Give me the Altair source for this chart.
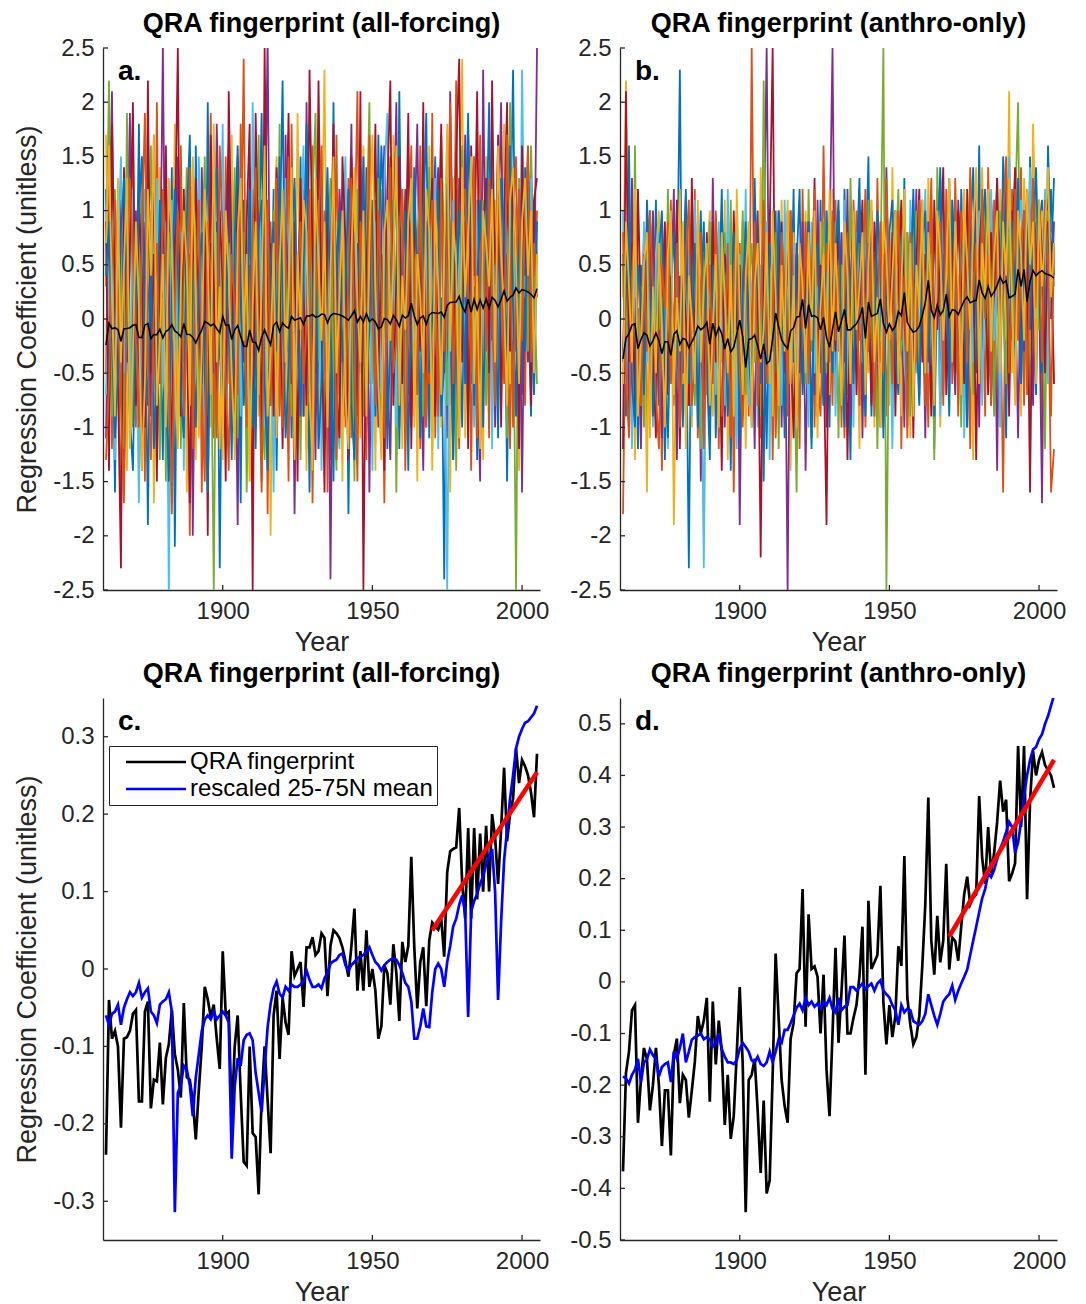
import altair as alt
import pandas as pd

# ---------------------------------------------------------------- data
YEARS = list(range(1861, 2006))

# c. QRA fingerprint (all-forcing) and rescaled 25-75N mean
C_FP = [
    -0.24, -0.04, -0.09, -0.08, -0.10, -0.205, -0.09, -0.088, -0.08, -0.058,
    -0.053, -0.171, -0.171, -0.055, -0.042, -0.18, -0.143, -0.145, -0.095, -0.175,
    -0.115, -0.097, -0.053, -0.11, -0.13, -0.166, -0.044, -0.14, -0.143, -0.17,
    -0.22, -0.157, -0.10, -0.023, -0.039, -0.062, -0.046, -0.09, -0.129, 0.023,
    -0.058, -0.055, -0.19, -0.10, -0.06, -0.16, -0.249, -0.254, -0.10, -0.212,
    -0.217, -0.291, -0.166, -0.10, -0.17, -0.238, -0.06, -0.028, -0.116, -0.037,
    -0.069, -0.085, 0.023, -0.009, 0.0, 0.009, -0.049, 0.028, 0.028, 0.041,
    0.018, 0.023, 0.046, 0.04, -0.035, 0.03, 0.05, 0.046, 0.04, 0.028,
    0.01, -0.01, 0.03, 0.078, -0.028, 0.023, -0.028, 0.05, -0.023, 0.0,
    -0.028, -0.09, -0.074, 0.005, -0.005, -0.046, 0.032, -0.005, -0.067, 0.035,
    0.009, 0.03, 0.145, 0.028, -0.051, 0.009, 0.028, -0.048, 0.037, 0.06,
    0.055, 0.051, 0.065, 0.016, 0.125, 0.152, 0.155, 0.157, 0.208, 0.111,
    0.065, 0.182, 0.065, 0.182, 0.09, 0.175, 0.10, 0.185, 0.10, 0.20,
    0.17, 0.11, 0.18, 0.26, 0.165, 0.20, 0.22, 0.285, 0.24, 0.27,
    0.262, 0.25, 0.228, 0.196, 0.278,
]
C_BLUE = [
    -0.06, -0.072, -0.058, -0.055, -0.046, -0.072, -0.05, -0.039, -0.03, -0.035,
    -0.03, -0.018, -0.037, -0.03, -0.025, -0.055, -0.06, -0.07, -0.046, -0.042,
    -0.039, -0.03, -0.055, -0.314, -0.16, -0.15, -0.125, -0.13, -0.15, -0.19,
    -0.14, -0.11, -0.08, -0.065, -0.06, -0.065, -0.055, -0.065, -0.06, -0.055,
    -0.06, -0.069, -0.245, -0.152, -0.115, -0.125, -0.092, -0.085, -0.083, -0.092,
    -0.134, -0.16, -0.185, -0.129, -0.075, -0.045, -0.025, -0.016, -0.032, -0.037,
    -0.023, -0.028, -0.02, -0.023, -0.023, -0.02, -0.016, -0.002, -0.014, -0.023,
    -0.023, -0.02, -0.025, -0.012, -0.005, 0.007, 0.01, 0.012, 0.018, 0.02,
    0.005, -0.002, 0.005, 0.009, 0.014, 0.016, 0.018, 0.023, 0.028, 0.018,
    0.009, 0.005, -0.002, 0.005, 0.009, 0.012, 0.014, 0.012, 0.005, -0.005,
    -0.018, -0.023, -0.042, -0.09, -0.09, -0.074, -0.051, -0.074, -0.075, -0.03,
    0.0, 0.007, 0.0, -0.023, 0.009, 0.03, 0.055, 0.065, 0.083, 0.095,
    0.074, -0.062, 0.074, 0.088, 0.097, 0.11, 0.12, 0.135, 0.145, 0.155,
    0.10, -0.04, 0.06, 0.14, 0.18, 0.22, 0.25, 0.285, 0.30, 0.31,
    0.318, 0.32, 0.325, 0.33, 0.34,
]

# d. QRA fingerprint (anthro-only) and rescaled 25-75N mean
D_FP = [
    -0.367, -0.176, -0.135, -0.055, -0.045, -0.273, -0.19, -0.128, -0.15, -0.249,
    -0.20, -0.128, -0.2, -0.318, -0.21, -0.21, -0.336, -0.14, -0.11, -0.235,
    -0.18, -0.19, -0.263, -0.21, -0.155, -0.066, -0.10, -0.075, -0.031, -0.232,
    -0.038, -0.16, -0.075, -0.135, -0.277, -0.18, -0.304, -0.26, -0.14, -0.01,
    -0.16, -0.446, -0.19, -0.18, -0.149, -0.25, -0.37, -0.23, -0.41, -0.385,
    -0.18, 0.055, -0.07, -0.19, -0.24, -0.273, -0.11, -0.08, 0.017, 0.025,
    0.18, -0.087, 0.131, 0.025, 0.03, 0.01, -0.10, 0.014, -0.17, -0.26,
    -0.10, 0.066, -0.118, -0.02, 0.09, -0.10, -0.10, -0.07, -0.045, 0.01,
    0.107, -0.18, 0.157, 0.025, 0.038, 0.052, 0.186, -0.04, -0.121, -0.045,
    -0.107, -0.066, 0.069, 0.031, 0.244, -0.031, -0.083, -0.121, -0.107, -0.066,
    0.031, 0.15, 0.357, 0.08, 0.014, 0.128, 0.038, 0.08, 0.229, 0.024,
    0.086, 0.079, 0.041, 0.107, 0.17, 0.204, 0.15, 0.163, 0.17, 0.36,
    0.24, 0.19, 0.30, 0.21, 0.25, 0.31, 0.39, 0.33, 0.353, 0.195,
    0.21, 0.23, 0.457, 0.30, 0.457, 0.16, 0.35, 0.447, 0.40, 0.43,
    0.445, 0.42, 0.41, 0.40, 0.376,
]
D_BLUE = [
    -0.183, -0.187, -0.197, -0.18, -0.17, -0.149, -0.194, -0.156, -0.15, -0.131,
    -0.142, -0.149, -0.183, -0.165, -0.159, -0.156, -0.194, -0.135, -0.149, -0.128,
    -0.10, -0.156, -0.135, -0.112, -0.107, -0.104, -0.10, -0.111, -0.107, -0.111,
    -0.125, -0.118, -0.10, -0.13, -0.145, -0.156, -0.156, -0.159, -0.152, -0.13,
    -0.118, -0.126, -0.135, -0.152, -0.156, -0.145, -0.159, -0.163, -0.156, -0.135,
    -0.155, -0.135, -0.111, -0.118, -0.093, -0.093, -0.08, -0.065, -0.05, -0.042,
    -0.055, -0.031, -0.045, -0.038, -0.048, -0.042, -0.052, -0.038, -0.045, -0.031,
    -0.052, -0.059, -0.031, -0.055, -0.048, -0.045, -0.01, -0.01, -0.017, -0.01,
    -0.003, -0.014, -0.008, -0.003, -0.017, -0.003, 0.003, -0.017, -0.024, -0.03,
    -0.045, -0.055, -0.083, -0.045, -0.059, -0.052, -0.055, -0.076, -0.08, -0.083,
    -0.076, -0.062, -0.024, -0.045, -0.066, -0.083, -0.062, -0.038, -0.03, -0.024,
    -0.007, -0.035, -0.017, -0.003, 0.01, 0.024, 0.052, 0.08, 0.107, 0.135,
    0.162, 0.18, 0.21, 0.203, 0.217, 0.238, 0.258, 0.272, 0.29, 0.31,
    0.30, 0.25, 0.27, 0.31, 0.36, 0.40, 0.43, 0.45, 0.455, 0.47,
    0.48, 0.50, 0.515, 0.535, 0.555,
]

# red linear trends (1970 onwards)
TREND_YEARS = [1970, 2005]
C_TREND = [0.05, 0.254]
D_TREND = [0.088, 0.43]

# a. individual members (all-forcing)
A_MEMBERS = [
    [1.2, -0.8, 0.3, -1.6, 0.9, 0.2, -0.4, 1.5, -1.1, 0.6, -0.3, 1.8, -0.9, 0.4, -1.9, 0.7, 1.1, -0.5, 0.2, -1.3,
     0.8, -0.2, 1.4, -2.1, 0.5, -0.7, 1.0, -0.1, 0.6, -1.5, 1.6, -0.4, 0.1, -1.0, 2.0, -0.6, 0.3, 0.9, -2.3, 0.4,
     -0.9, 1.3, 0.0, -0.5, 0.8, -1.7, 1.1, 0.2, -0.3, 0.7, -1.2, 0.5, 1.9, -0.8, 0.1, -0.4, 1.2, -1.4, 0.6, 2.2,
     -0.7, 0.3, -1.1, 0.9, -0.2, 1.5, -0.9, 0.4, -1.6, 0.8, 0.1, -0.6, 1.3, -0.2, 0.7, -1.3, 2.0, -0.4, 0.5, -0.9,
     1.0, -1.8, 0.6, 0.2, -0.5, 1.4, -0.1, -1.0, 0.9, 0.3, -0.8, 1.7, -0.3, 0.6, -1.2, 0.4, 1.1, -0.6, 2.1, -0.2,
     0.5, -1.4, 0.8, 0.1, -0.7, 1.3, -0.3, 0.9, -1.1, 0.6, 1.5, -0.5, 0.2, -2.4, 0.9, 0.4, -0.8, 1.2, 0.0, -1.0,
     0.7, 1.9, -0.6, 0.3, -1.3, 1.0, 0.5, -0.2, 1.6, -0.9, 0.4, -0.4, 1.2, 0.8, -1.5, 0.6, 2.3, -0.3, 0.9, -0.7,
     1.4, 0.2, -0.9, 1.1, 0.5],
    [-0.5, 1.4, -1.2, 0.8, 0.1, -1.9, 1.0, -0.3, 0.6, 1.7, -1.0, 0.2, 0.9, -1.5, 1.3, -0.2, -0.8, 2.0, -0.6, 0.4,
     1.1, -1.3, 0.5, 0.0, -0.9, 1.6, -0.4, 0.7, -2.0, 0.9, -0.1, 1.2, -1.6, 0.6, -0.3, 1.9, -1.1, 0.2, 0.8, -0.7,
     1.5, -0.2, -1.0, 1.1, -0.6, 0.3, 2.4, -0.9, 0.5, -1.4, 0.7, -0.5, 0.1, 1.3, -1.8, 0.9, -0.2, 0.6, -0.9, 1.0,
     0.3, -1.5, 1.8, -0.4, 0.5, -0.8, 1.2, -1.2, 0.2, 1.6, -0.9, 0.4, -0.1, 1.0, -1.6, 0.8, -0.3, 1.7, -0.7, 0.5,
     0.0, 1.3, -1.1, 0.6, 2.1, -0.5, 0.2, -1.3, 0.8, -0.2, 1.1, -0.7, 0.4, -1.7, 0.9, 1.5, -0.4, 0.3, -1.0, 1.2,
     -0.3, 0.7, 1.6, -0.9, 0.2, -1.2, 1.0, 0.4, -0.6, 1.9, -1.1, 0.5, 0.9, -0.4, 1.4, -0.8, 0.1, 2.2, -0.5, 0.6,
     -0.2, 1.0, -1.4, 0.8, 0.3, 1.7, -0.6, 0.5, -1.1, 1.3, 0.2, 1.6, -0.5, 1.1, 0.4, -1.2, 0.9, 1.5, -0.3, 0.7,
     -0.8, 1.2, 0.6, -0.2, 1.0],
    [1.7, -0.2, 0.6, -1.0, 1.3, -0.7, 0.4, -1.4, 0.9, 0.0, 0.5, -1.2, 1.5, 0.3, -0.6, 1.0, -1.7, 0.8, 1.4, -0.4,
     -0.8, 0.6, -0.2, 1.8, -1.1, 0.3, 0.9, -1.6, 0.4, 1.2, -1.3, 0.7, 1.0, -0.5, 0.2, -1.0, 1.6, -0.2, -1.2, 0.9,
     0.4, -0.6, 1.7, -1.3, 0.6, 0.1, -0.8, 1.1, -1.5, 0.5, 1.3, -0.9, 0.4, -0.3, 1.0, -2.0, 0.7, 1.5, -0.4, 0.2,
     -1.0, 1.1, 0.3, -0.6, 1.9, -0.2, 0.5, -1.4, 1.0, -0.5, 0.8, -1.2, 0.5, 2.3, -0.7, 0.2, -1.0, 0.9, 0.4, -1.5,
     1.2, 0.3, -0.8, 1.0, -0.3, -1.1, 1.6, 0.4, -0.6, 0.8, -1.4, 0.6, 1.2, -0.1, 0.3, -0.9, 1.7, -0.5, 0.8, -1.2,
     1.0, 0.2, -0.6, 1.4, -1.5, 0.7, 0.3, -0.8, 1.6, 0.1, -0.4, 1.1, -1.0, 0.6, 0.2, -1.6, 1.3, -0.2, 0.9, 2.4,
     -1.1, 0.4, 1.2, -0.5, 0.9, 0.0, -1.3, 1.5, 0.6, -0.4, 1.1, -0.9, 0.5, 1.8, 0.3, -0.6, 1.0, 0.4, -1.4, 1.2,
     0.6, 1.5, -0.5, 0.8, 0.3],
    [-1.1, 0.7, 2.1, -0.6, -0.2, 1.1, -1.5, 0.5, 1.9, -0.8, 1.0, -0.4, -1.4, 0.9, 0.3, -0.9, 1.7, -1.2, 0.1, 2.5,
     -0.6, 1.2, -1.7, 0.4, 1.5, -0.3, -1.0, 0.8, 1.3, -2.0, 0.6, -0.8, 1.4, 0.0, -1.4, 0.7, -0.5, 1.8, 0.3, -1.1,
     0.9, 1.6, -0.7, 0.2, -1.9, 1.0, -0.2, -0.6, 1.4, -0.3, -0.4, 1.1, -1.5, 0.5, 2.6, -0.8, 0.2, -1.1, 1.3, -0.6,
     1.7, -0.3, 0.6, -1.8, 0.4, 1.0, -0.9, 2.0, -0.4, 0.1, -1.3, 1.5, -0.6, 0.3, 1.1, -2.4, 0.7, -0.1, 1.2, 0.6,
     -0.9, 0.4, 1.8, -1.2, 0.2, 0.9, -0.7, 1.4, -1.6, 0.5, 0.3, -1.0, 0.8, 1.6, -0.5, -1.3, 0.6, 2.0, -0.8, 0.2,
     1.2, -0.5, -1.0, 0.7, 1.8, -0.2, -1.4, 0.9, 0.3, -0.7, 0.8, 1.4, -0.6, 0.1, -1.1, 2.1, 0.4, -0.9, 1.3, -0.3,
     1.7, -0.8, 0.2, 1.1, -0.4, -1.5, 2.3, 0.0, 0.7, 1.2, -1.0, 0.6, 2.0, -0.3, 0.9, 1.4, -0.7, 0.3, 1.1, -1.6,
     0.8, -0.4, 1.3, 0.1, 2.5],
    [0.3, 2.2, -0.9, 1.2, -0.3, 0.6, -1.2, 1.9, -0.2, -1.0, 0.8, -0.1, 1.1, -0.8, 0.5, 1.6, -0.6, 0.0, -1.3, 0.9,
     -1.5, 0.8, 0.2, -0.4, 1.0, -1.2, 0.5, 1.4, -0.7, 0.1, 1.1, -1.0, 0.4, 1.5, -0.9, 0.2, -2.5, 0.8, 0.6, -0.3,
     -0.5, 0.7, 0.2, 1.4, -1.1, 0.5, 0.8, -1.6, 0.0, 1.2, 0.2, 1.7, -0.7, -1.3, 0.6, 0.3, 1.0, -0.5, 1.8, -0.9,
     0.6, -0.2, -0.9, 1.2, 0.1, -1.3, 0.7, 0.3, -0.8, 1.1, 1.9, -0.4, 0.8, -1.1, 0.5, 1.3, -0.5, -1.4, 0.6, 1.0,
     -0.3, 0.9, 0.2, -1.5, 1.2, 0.4, -0.9, 0.7, 2.0, -0.6, 0.5, 1.3, -1.1, 0.2, 0.7, -0.4, 1.1, -1.6, 0.4, 0.9,
     -0.7, 1.5, 0.3, -0.5, 0.8, 1.1, -0.9, 0.1, 1.4, -1.2, 0.4, -0.3, 1.7, 0.7, -0.8, 0.3, 1.0, -1.4, 0.6, 1.6,
     0.0, -0.9, 0.8, 1.5, -0.2, 0.6, 1.1, -0.8, 0.3, 1.7, -0.5, 1.2, 0.1, 0.7, -1.1, 2.0, 0.4, -2.5, 1.3, 0.2,
     1.0, -0.3, 1.6, 0.4, -0.6],
    [-0.7, 0.4, 1.0, -1.3, 0.6, 1.5, -0.5, 0.2, -0.9, 1.2, 0.1, -1.7, 0.6, 1.2, -0.3, 0.5, -1.0, 1.3, 0.3, -0.6,
     0.9, -2.6, 1.1, -0.5, 0.3, 0.8, -1.4, 0.6, 1.0, -0.2, -0.6, 1.5, 0.3, -1.2, 0.9, -0.4, 1.2, -1.0, 0.5, 1.8,
     -1.2, 0.2, 0.9, -0.4, 1.3, -0.9, 0.6, 0.0, -1.1, 2.0, 0.5, -0.4, 1.2, -1.0, 0.8, 0.3, -1.6, 0.9, 0.1, -0.6,
     1.3, 0.7, -0.5, 0.2, -1.2, 0.8, 1.6, -0.6, 0.4, -1.0, 0.6, 1.1, -1.4, 0.4, -0.2, 0.9, 1.4, -0.8, -1.2, 0.7,
     1.5, -0.6, 0.3, 0.8, -1.0, 0.1, 1.2, -0.4, 0.6, -1.4, 0.9, 0.2, -0.7, 1.3, 1.9, -0.3, 0.5, -1.0, 1.1, 0.4,
     -1.1, 0.3, 1.2, -0.2, 0.6, -0.8, 1.6, 0.5, -0.4, 0.9, 1.3, -1.2, 0.7, 0.3, -2.5, 0.8, 1.1, -0.1, 0.5, 1.0,
     -0.6, 1.4, 0.3, -1.0, 1.1, 0.4, -0.3, 0.9, 1.6, -1.2, 0.8, 0.3, -0.8, 1.3, 0.6, 1.0, -0.2, 0.7, -0.9, 2.3,
     0.2, 0.9, 1.3, -0.7, 0.6],
    [0.9, -1.4, 1.8, 0.2, -0.6, -2.3, 1.4, -0.4, 0.7, 2.0, -0.8, 1.1, 0.4, -1.0, 2.2, -0.5, 0.6, -1.5, 0.9, 0.2,
     1.6, -0.3, -1.2, 0.7, 2.5, -0.9, 1.2, -0.1, -1.7, 0.5, 1.3, 0.1, -0.6, 0.9, -2.0, 1.7, 0.4, -0.8, 1.0, 0.3,
     -1.5, 2.1, 0.5, -1.0, 1.5, 0.2, -0.4, 0.9, 1.8, -2.5, 1.9, 0.3, -1.1, 2.5, -0.2, 0.7, -0.9, 1.4, 0.4, -1.2,
     0.5, 1.9, -0.6, 0.9, -1.5, 1.3, 0.2, -0.8, 2.3, 0.6, -0.5, 2.2, 0.1, -1.6, 1.0, 0.4, 1.8, -0.6, -1.1, 1.5,
     0.7, -1.3, 1.5, 0.3, -0.9, 2.1, -2.5, 0.5, 1.2, 0.0, 1.8, -0.5, 0.6, -1.4, 1.2, 2.2, -0.8, 0.4, 1.5, -0.6,
     0.3, 1.9, -1.2, 1.0, 0.5, -0.3, 2.0, -1.0, 0.7, 1.3, -0.9, 0.6, 1.8, -0.5, 1.0, 0.2, -1.3, 1.5, 2.4, -0.4,
     0.9, -1.2, 1.6, 0.4, 2.1, -0.6, 0.8, 1.3, -0.5, 2.2, 0.1, 1.7, -1.0, 0.9, 2.0, -0.3, 1.4, 0.5, -1.2, 1.6,
     0.4, 1.5, -0.8, 1.1, 1.3],
    [0.4, 0.9, -0.2, -1.1, -0.5, 0.8, 1.3, 0.1, -0.9, -1.4, 0.2, 1.0, 1.5, -0.3, -0.8, 0.6, -1.2, -0.4, 1.1, 0.7,
     -0.6, -1.5, 0.3, 1.2, 0.5, -0.7, -1.1, 0.9, 1.7, -0.2, -1.0, 0.4, 0.8, -0.5, -1.6, 0.2, 1.0, 1.4, -0.3, -0.9,
     0.6, -0.1, -1.3, 0.7, 1.6, 0.3, -0.8, -0.2, 1.2, -1.0, -0.4, 0.8, 1.1, -0.6, -1.4, 0.5, 0.9, -0.3, 1.5, 0.2,
     -1.1, -0.5, 0.7, 1.3, -0.2, -0.9, 0.4, 1.8, -0.7, 0.1, 0.9, -1.2, -0.6, 0.5, 1.4, 0.0, -1.5, 0.6, 1.0, -0.4,
     0.3, 1.2, -0.8, -1.3, 0.7, 0.2, 1.5, -0.6, -0.1, 1.1, -0.9, 0.4, 1.6, 0.8, -1.0, -0.3, 0.6, 1.3, -1.2, 0.5,
     1.0, -0.7, -0.2, 1.4, 0.3, -1.1, 0.8, 1.9, -0.5, 0.0, 0.6, 1.2, -0.9, -0.4, 1.5, 0.7, -1.3, 0.2, 1.0, 0.4,
     -0.6, 1.7, 0.9, -0.8, 0.3, 1.1, -1.0, 0.6, 2.0, -0.2, 0.5, -1.1, 1.3, 0.8, -0.5, 1.6, 0.1, -0.9, 1.2, 0.7,
     -0.3, 1.4, 0.4, -0.7, 0.9],
    [-1.3, -0.6, 0.5, 1.1, 0.2, -0.8, -1.7, 0.4, 1.3, 0.6, -0.2, -1.0, 0.8, 1.9, -0.4, -1.3, 0.1, 0.7, -0.6, 1.2,
     0.5, -0.3, -1.8, 0.2, 1.0, 0.6, -0.9, -0.1, 1.4, -1.2, 0.3, 1.1, -0.7, -1.5, 0.9, 0.4, -0.2, -1.1, 1.6, 0.8,
     -0.5, -1.4, 0.6, 0.1, -0.7, 1.8, 0.3, -1.0, -0.4, 0.9, 1.4, -0.2, -1.6, 0.5, 1.1, -0.8, 0.2, 1.3, -0.5, -1.0,
     0.7, 1.5, -0.3, -1.2, 0.4, 0.9, -0.6, 0.0, 1.2, -1.7, 0.2, 0.8, 1.6, -0.4, -0.9, 0.5, 1.0, -1.3, 0.3, 0.7,
     -1.0, 0.6, 1.3, -0.2, -1.5, 0.9, 0.4, -0.6, 1.7, 0.1, -0.8, 1.0, 0.3, -1.1, 0.6, 1.4, -0.5, -0.2, 0.8, 1.2,
     -1.4, 0.2, 0.9, 0.5, -0.7, 1.6, -0.1, -1.0, 0.7, 1.1, 0.4, -0.9, 1.3, -0.3, 0.8, 2.0, -0.6, 0.2, -1.2, 0.9,
     1.2, 0.3, -0.5, 1.5, -1.1, 0.6, 0.9, -0.3, 1.3, 0.0, -0.8, 1.1, 0.5, -0.6, 1.7, 0.8, -1.0, 0.4, 1.2, -0.2,
     0.9, 1.6, -0.4, 0.7, 0.2],
    [0.7, 1.6, 0.2, -0.9, 1.1, -0.4, 0.5, 1.3, -1.2, -0.3, 0.9, 0.1, -1.4, -0.6, 1.2, 0.4, 1.7, -0.8, -0.2, 0.6,
     -1.0, 1.3, 0.7, -0.5, -1.2, 0.3, 1.0, 0.5, -0.8, 1.5, 0.2, -1.1, -0.3, 1.2, 0.6, -0.7, 1.8, -0.4, 0.3, -1.3,
     1.0, 0.4, -0.5, -1.2, 0.8, 1.3, -0.2, 0.6, -1.5, 0.1, 0.9, -0.7, 0.3, 1.6, -0.9, -0.3, 0.7, -1.1, 0.5, 1.2,
     -0.4, 0.2, 1.4, -1.3, 0.6, -0.1, 1.1, 0.8, -0.6, -1.4, 1.3, 0.5, -0.2, 0.9, -1.0, 0.4, 1.5, -0.5, 0.2, 1.0,
     -0.7, -1.2, 0.6, 1.4, 0.1, -0.4, 1.0, -0.9, 0.7, 1.7, 0.3, -0.6, -1.3, 0.8, 1.1, -0.2, 0.5, 1.6, -0.8, 0.4,
     -0.1, 0.9, 1.3, -1.0, 0.6, 0.2, -0.5, 1.2, 0.8, -1.4, 1.1, 0.3, -0.7, 0.6, 1.8, -0.3, 0.9, 0.5, -1.1, 1.4,
     0.2, 0.8, 1.5, -0.6, 0.4, -1.2, 1.0, 0.7, 0.3, 1.2, -0.4, 1.6, 0.6, 0.1, -0.8, 1.1, 1.4, 0.5, -0.6, 0.9,
     1.3, 0.4, 1.0, -0.5, 0.6],
]

# b. individual members (anthro-only)
B_MEMBERS = [
    [0.6, -0.9, 1.6, -0.4, 0.2, -1.2, 0.5, -0.3, 0.9, -0.7, -0.2, 1.1, -0.8, 0.3, -1.3, 0.4, 0.7, -0.6, 0.1, 2.3,
     -1.0, 0.3, -2.3, 0.8, -0.5, 0.2, 1.0, -0.9, 0.4, -0.2, 0.7, -1.1, 0.1, 1.2, -0.6, 0.4, -1.4, 0.6, 0.0, -0.8,
     0.9, -0.5, 0.3, -1.0, 1.3, -0.2, 0.5, -1.5, 0.8, -0.4, 0.2, 1.0, -0.7, 0.4, -1.1, 0.6, -0.1, 1.2, -0.9, 0.3,
     -0.5, 0.8, 0.1, -1.2, 0.7, -0.3, 1.1, -0.6, 0.4, -1.0, 0.9, -0.2, 0.5, -0.8, 1.2, 0.0, -1.3, 0.6, -0.4, 1.0,
     -0.6, 0.3, 1.5, -0.9, 0.2, -0.4, 0.8, -1.1, 0.6, 0.1, -0.7, 1.0, 0.3, -0.5, 1.3, -1.0, 0.4, 0.9, -0.3, 0.6,
     1.1, -0.8, 0.2, 0.7, -1.2, 0.5, 1.4, -0.4, 0.3, -0.9, 0.8, 0.1, -0.6, 1.2, 0.4, -1.0, 0.9, 0.2, -0.5, 1.6,
     -0.3, 0.7, 1.0, -0.8, 0.5, 1.3, -0.2, 0.6, -1.1, 1.0, 0.4, -0.6, 1.2, 0.3, 0.9, -0.4, 1.5, 0.1, -0.7, 0.8,
     1.1, -0.3, 1.6, 0.5, 1.3],
    [-1.8, 0.3, -0.5, 1.0, -0.9, 0.6, -0.2, 0.8, -1.1, 0.1, 0.9, -0.6, 0.2, -1.4, 0.5, -0.3, 1.1, -0.8, 0.4, -0.5,
     0.3, -0.9, 0.8, -0.2, 1.2, -1.1, 0.0, 0.6, -0.7, 0.4, -0.4, 0.8, -1.2, 0.5, 0.1, -0.6, 0.9, -1.6, 0.3, 0.7,
     -0.2, 0.5, -0.9, 2.5, -0.4, 0.3, -1.1, 0.6, -0.3, 1.0, -1.3, 0.4, 0.8, -0.5, 0.2, -0.9, 1.0, -0.2, 0.5, -1.2,
     1.2, -0.4, 0.3, 0.7, -1.0, 0.6, -0.5, 1.6, -0.2, 0.4, -0.8, 1.1, -0.3, 0.2, -1.1, 0.8, 0.4, -0.6, 1.0, -0.2,
     0.5, -1.0, 0.7, 0.1, -0.6, 1.3, -0.4, 0.3, -0.9, 0.8, 0.2, -0.5, 1.0, -1.2, 0.6, 0.3, -0.7, 1.1, 0.0, -0.4,
     0.7, 0.2, -1.0, 0.9, -0.3, 1.2, 0.4, -0.8, 0.6, 1.0, -0.6, 1.3, 0.1, -0.4, 0.9, 0.5, -1.2, 0.7, 1.1, -0.1,
     0.6, -0.9, 1.4, 0.2, -0.5, 1.0, 0.3, -1.6, 0.8, 0.5, 1.2, -0.2, 0.6, 1.4, -0.8, 0.9, 0.2, 1.1, -0.4, 0.7,
     -1.0, 0.9, 0.4, -1.6, -1.2],
    [0.2, 2.2, -0.7, 0.5, -1.3, 0.9, -0.1, 0.4, -1.6, 0.7, -0.4, 0.6, 1.0, -0.9, 0.1, -0.5, 0.8, -1.9, 0.3, 1.2,
     -0.6, 0.4, 0.9, -1.0, 0.2, 0.7, -0.3, -2.0, 0.5, 1.0, -0.9, 0.2, 0.6, -0.4, 1.1, -1.3, 0.3, 0.8, -0.7, 0.0,
     0.6, -1.2, 0.9, -0.1, 0.4, -0.8, 1.4, 0.2, -0.6, 0.7, -0.9, 0.5, -0.2, 1.1, -0.6, 0.3, -1.4, 0.8, 0.0, 0.5,
     -0.3, 1.0, -0.8, 0.4, 0.2, -1.1, 0.9, -0.4, 0.6, -0.7, 1.2, -0.5, 0.3, 0.8, -0.9, 0.1, 1.0, -0.6, 0.4, -1.2,
     0.9, 0.2, -0.5, 1.1, -1.0, 0.6, -0.2, 0.8, 0.3, -0.8, 1.4, -0.3, 0.5, -0.9, 0.7, 0.1, -1.1, 0.9, 0.4, -0.2,
     0.6, -0.7, 1.3, 0.0, -0.5, 0.8, -1.0, 0.5, 1.1, -0.3, 0.2, 0.9, -0.8, 0.6, 1.2, -0.4, 0.3, -1.3, 1.0, 0.5,
     1.4, 0.1, -0.6, 0.9, 0.4, -0.9, 1.2, 0.6, -0.2, 2.1, -0.5, 0.8, 0.3, -0.9, 1.3, 0.5, -0.3, 1.8, 0.6, 0.2,
     1.0, -0.4, 0.7, 0.3, -0.6],
    [-0.3, 0.8, -1.0, 1.3, -0.5, 0.1, -1.2, 0.6, 0.3, -0.8, 1.0, -0.2, 0.5, -1.1, 0.7, -0.6, 0.2, 1.2, -1.3, 0.4,
     -0.5, 1.1, -0.8, 0.3, -0.1, 0.9, -1.5, 0.2, 0.6, -0.9, 1.3, -0.3, -0.8, 0.7, -1.0, 0.5, 0.1, -0.6, 1.0, -1.9,
     0.4, 0.8, -0.6, 0.2, -1.2, 1.0, -0.3, 0.6, 2.5, -0.7, 0.1, -0.4, 1.0, -1.0, 0.5, -2.5, 0.8, -0.3, 0.6, -0.5,
     0.9, -1.4, 0.2, 0.6, -0.7, 1.1, -0.2, 0.4, -1.0, 0.7, 2.5, -0.6, 0.0, 0.8, -0.4, 1.2, -0.9, 0.5, -0.2, 0.9,
     -1.1, 0.6, -0.3, 1.0, 0.2, -0.8, 0.7, -0.5, 1.4, -0.1, 0.4, 1.0, -0.6, 0.3, -1.0, 0.8, 0.2, -0.4, 1.2, -0.7,
     0.5, -1.1, 0.9, 0.3, -0.2, 1.0, -0.8, 0.6, -0.4, 1.3, 0.0, -0.7, 1.1, 0.4, -0.9, 0.8, 0.3, -0.2, 1.2, -1.0,
     0.7, 0.3, -0.5, 1.1, 0.6, -1.4, 0.9, 0.2, 1.3, -0.6, 1.0, 0.4, -1.1, 0.7, -0.3, 1.2, 0.5, -0.8, 0.9, 0.3,
     -1.7, 1.1, 0.6, 0.0, 0.9],
    [0.5, -0.4, 0.9, -0.8, 1.6, -0.6, 0.3, -1.0, 0.7, -0.2, -0.7, 0.4, -0.1, 0.9, -0.9, 1.2, 0.0, -0.6, 0.5, -1.1,
     0.7, -0.3, 0.2, 1.0, -0.8, 0.4, -1.2, 0.6, -0.4, 0.9, -0.2, 0.5, -1.0, 0.3, 0.8, -0.5, 1.1, -0.9, 0.2, -0.4,
     1.0, -0.7, 0.3, 0.7, -0.4, 0.0, -0.9, 2.2, -0.5, 0.4, -0.3, 0.8, -1.2, 0.2, 0.7, -0.6, 1.0, -0.1, -1.6, 0.6,
     0.3, -0.6, 1.2, -0.3, 0.5, -0.9, 0.4, 0.9, -0.5, 0.1, -0.4, 0.9, -1.1, 0.5, 0.2, -0.7, 1.3, 0.0, -0.5, 0.7,
     0.2, -0.6, 1.1, -0.2, 0.6, -1.2, 0.4, 2.5, -2.5, 0.3, -0.6, 0.5, 1.2, -0.3, 0.1, 0.8, -0.9, 0.4, 1.0, -0.5,
     0.3, 0.9, -0.4, 0.6, -1.3, 1.4, 0.2, -0.6, 0.7, 0.1, 1.0, -0.5, 0.4, -1.0, 0.8, 0.2, 1.3, -0.7, 0.5, -0.3,
     0.2, 1.1, -0.4, 0.5, -0.9, 0.7, 1.0, 0.1, -0.6, 0.8, -0.2, 1.0, 2.0, -0.6, 0.4, 0.9, -0.9, 0.6, 1.2, -0.1,
     0.5, -1.2, 1.0, 0.2, 0.7],
    [1.0, -0.6, 0.2, -1.2, 0.6, 0.0, -0.8, 0.9, -0.4, 0.3, -1.0, 0.5, 0.8, -0.3, 0.2, -1.2, 0.6, -0.5, 1.0, -0.8,
     0.4, -0.1, 0.6, -0.9, 1.1, -0.4, 0.3, -2.3, 0.7, 0.1, 0.2, -0.7, 0.9, -0.1, -0.8, 1.2, -0.3, 0.4, -1.2, 0.6,
     -0.4, 1.2, -0.8, 0.3, 0.6, -1.0, 0.5, -0.2, 0.9, -1.3, 0.8, -0.1, 0.4, -0.8, 1.1, 0.0, -0.6, 0.7, -1.0, 0.4,
     -0.2, 0.6, -1.0, 0.9, -0.5, 0.3, 0.0, -0.8, 1.0, 0.2, 0.7, -0.9, 0.2, -0.3, 1.1, -0.6, 0.5, -1.0, 0.8, 0.1,
     -0.4, 1.0, -0.1, 0.5, -0.9, 0.7, 0.0, -0.6, 1.1, 0.4, -1.2, 0.6, 0.2, 0.9, -0.4, -0.8, 1.1, 0.3, -0.5, 0.7,
     0.1, 1.2, -0.5, -0.2, 0.8, 0.4, -0.9, 1.0, 0.3, -0.6, 1.1, 0.4, -0.3, 0.8, -1.1, 0.5, 0.9, -0.4, 0.2, 1.0,
     -0.8, 0.6, 0.3, 1.2, -0.2, 0.5, -1.0, 0.9, 0.4, 1.5, 0.1, -0.7, 0.8, 1.1, 0.3, -0.5, 1.4, 0.6, 0.0, 1.0,
     0.4, 1.2, -0.6, 0.8, 0.3],
    [-1.2, 2.1, -0.4, 0.7, -0.9, 1.2, 0.0, -0.6, 0.5, 1.0, -0.3, -1.1, 0.7, 0.2, 0.9, -0.7, 0.4, -0.2, 1.1, -1.2,
     0.5, 0.0, -0.8, 1.3, -0.4, 0.6, 0.2, -1.1, 0.8, -0.5, 0.9, -0.4, 0.2, -1.4, 0.6, 0.3, -0.8, 1.0, -0.1, 0.5,
     -0.9, 0.7, 0.0, -0.6, 1.1, 0.3, -2.2, 0.5, -0.4, 0.8, 2.5, -0.8, 0.3, 0.9, -0.5, 1.0, -0.2, -1.1, 0.7, 0.1,
     -0.6, 0.4, 0.9, -0.2, 1.3, -0.7, 0.5, -0.3, -1.9, 0.8, 0.2, -0.3, 1.0, -0.5, 0.6, -1.3, 0.3, 0.9, -0.7, 0.4,
     1.1, -0.5, 0.2, -0.8, 0.9, 0.3, -1.0, 0.6, 0.1, -0.2, 0.8, -0.9, 0.4, 1.1, 0.0, -0.6, 0.7, -1.1, 0.5, 1.2,
     -0.4, 0.6, 0.3, -0.9, 1.1, -0.1, 0.5, 1.4, -0.7, 0.2, 0.9, -0.5, 1.0, 0.3, -0.6, 1.2, 0.0, 0.7, -1.3, 0.6,
     1.1, 0.4, -0.7, 0.8, 0.2, 1.3, -0.3, 0.6, 1.0, -0.9, 0.7, 1.4, 0.2, -0.4, 1.0, 0.6, -1.6, 0.9, 0.3, 1.1,
     0.6, -0.5, 0.9, 0.7, -0.6],
    [-0.4, 0.3, 0.9, -0.6, -1.0, 0.5, 0.2, -0.7, 1.1, 0.4, -0.9, -0.3, 0.6, 1.0, -0.5, -1.1, 0.3, 0.8, -0.2, -0.8,
     0.4, 1.2, -0.6, -0.1, 0.7, -1.0, 0.2, 0.9, -0.4, -1.3, 0.5, 0.1, -0.7, 1.0, 0.3, -0.9, -0.2, 0.8, 0.5, -1.1,
     0.2, 0.9, -0.3, -0.8, 1.1, 0.4, -0.6, 0.1, -1.2, 0.7, 0.3, -0.5, 1.0, 0.6, -0.9, -0.2, 0.8, -0.4, 0.5, 1.2,
     -0.7, 0.0, 0.9, -1.1, 0.4, 0.7, -0.3, -0.8, 1.0, 0.2, -0.5, 0.6, 1.1, -0.4, -1.0, 0.8, 0.3, -0.6, 0.5, 1.3,
     -0.2, -0.9, 0.7, 0.2, -0.4, 1.0, 0.5, -1.0, 0.3, 0.8, 1.1, -0.3, -0.7, 0.6, 0.9, -0.5, 0.2, 1.2, -0.1, -0.8,
     0.7, 1.0, -0.4, 0.3, -0.9, 0.8, 1.3, -0.2, 0.4, -0.6, 1.1, 0.5, -0.3, 0.9, 0.2, -1.0, 0.7, 1.4, 0.0, -0.5,
     0.8, 1.2, 0.3, -0.7, 1.0, 0.4, -0.2, 1.5, 0.6, -0.4, 0.9, 0.2, 1.3, -0.6, 0.5, 1.1, -0.1, 0.8, 1.4, 0.3,
     -0.5, 1.0, 0.6, 1.2, 0.4],
    [0.8, -0.5, -1.1, 0.4, 0.9, -0.2, -0.8, 0.6, -0.3, 1.0, 0.2, -0.7, -1.2, 0.5, 0.1, 0.9, -0.6, -0.1, 0.7, -1.0,
     -0.2, 0.6, 1.1, -0.8, -0.4, 0.3, 0.8, -1.2, 0.0, 0.5, -0.6, 1.0, 0.2, -0.9, -0.3, 0.7, -1.1, 0.4, 0.9, -0.5,
     -1.0, 0.3, 0.6, -0.2, 0.9, -0.8, 0.1, 1.1, -0.6, -0.3, 0.5, -1.1, -0.2, 0.8, 0.3, -0.7, 1.0, 0.2, -0.9, 0.6,
     -0.1, 0.9, -0.6, 0.4, 1.2, -0.5, -0.9, 0.3, 0.7, -0.4, 1.0, -0.2, 0.5, -1.0, 0.2, 0.8, -0.6, 1.1, 0.3, -0.8,
     0.4, 1.2, -0.3, 0.6, -0.9, 0.1, 0.9, -0.5, 1.3, 0.2, -0.6, 0.7, 1.0, -0.2, 0.4, -1.1, 0.8, 0.3, -0.4, 1.1,
     0.6, -0.8, 0.2, 1.3, -0.3, 0.5, 0.9, -0.7, 1.2, 0.4, -0.2, 0.8, -0.9, 1.0, 0.5, -0.4, 1.4, 0.2, 0.7, -0.6,
     1.2, 0.0, 0.6, -0.8, 1.1, 0.4, -0.3, 0.9, 1.5, -0.5, 0.3, 1.2, -0.2, 0.7, 1.0, -0.7, 0.5, 1.3, 0.1, 0.8,
     -0.4, 1.1, 0.5, -0.9, 0.7],
    [-0.6, 0.9, 0.3, -0.4, 1.2, -0.9, -0.2, 0.5, 0.8, -1.1, 0.3, -0.5, 0.7, -0.1, -1.0, 0.6, 1.0, -0.7, 0.2, -0.3,
     0.9, -1.2, 0.4, 0.0, -0.6, 1.1, -0.4, 0.3, 0.7, -0.8, -0.1, 0.6, -1.0, 0.8, 0.2, -0.5, 0.5, -0.9, 1.2, 0.1,
     -0.7, 0.4, 0.9, -1.0, 0.3, 0.7, -0.4, -0.1, 0.8, -0.6, 1.0, 0.2, -0.8, 0.5, -0.3, 1.1, -0.6, 0.4, -1.0, 0.7,
     0.3, -0.5, 0.8, -0.2, 1.0, -0.9, 0.1, 0.6, -0.4, 1.2, -0.3, 0.7, 0.0, -0.8, 0.9, 0.4, -0.6, 1.0, -0.1, 0.3,
     0.8, -0.7, 0.5, 1.1, -0.4, 0.2, -1.0, 0.9, 0.6, -0.2, 0.4, 1.0, -0.6, 0.3, 1.2, -0.3, 0.7, -0.9, 0.5, 0.1,
     1.1, -0.5, 0.8, 0.2, -0.8, 1.0, 0.6, -0.2, 0.4, 1.3, -0.4, 0.9, 0.3, -0.7, 1.1, 0.5, -0.1, 0.8, 1.4, -0.6,
     0.7, 0.2, 1.2, -0.3, 0.6, 1.0, -0.5, 0.9, 0.4, 1.3, 0.1, -0.8, 1.0, 0.6, -0.2, 1.2, 0.5, 0.9, -0.6, 1.1,
     0.3, 0.8, 1.4, 0.2, 0.7],
]

MATLAB_COLORS = ["#0072BD", "#D95319", "#EDB120", "#7E2F8E", "#77AC30", "#4DBEEE", "#A2142F"]
SERIES_NAMES = ["QRA fingerprint", "rescaled 25-75N mean"]
SERIES_COLORS = ["#000000", "#0000FF"]

X_TICKS = [1900, 1950, 2000]
TOP_Y_TICKS = [-2.5, -2, -1.5, -1, -0.5, 0, 0.5, 1, 1.5, 2, 2.5]
C_Y_TICKS = [-0.3, -0.2, -0.1, 0, 0.1, 0.2, 0.3]
D_Y_TICKS = [-0.5, -0.4, -0.3, -0.2, -0.1, 0, 0.1, 0.2, 0.3, 0.4, 0.5]

for _name, _arr in [("C_FP", C_FP), ("C_BLUE", C_BLUE), ("D_FP", D_FP), ("D_BLUE", D_BLUE)]:
    if len(_arr) != len(YEARS):
        raise ValueError(f"{_name} has {len(_arr)} values, expected {len(YEARS)}")

# ---------------------------------------------------------------- style
W, H = 437, 542
X_DOMAIN = [1860, 2006]
FONT = "Liberation Sans"
AX = "#262626"
TICK_LEN = 5
YTITLE = "Regression Coefficient (unitless)"


def x_enc():
    return alt.X("year:Q",
                 scale=alt.Scale(domain=X_DOMAIN, nice=False, zero=False),
                 axis=alt.Axis(values=X_TICKS, labelExpr="'' + datum.value"),
                 title="Year")


def y_enc(domain, ticks, title):
    return alt.Y("value:Q",
                 scale=alt.Scale(domain=domain, nice=False, zero=False),
                 axis=alt.Axis(values=ticks, labelExpr="'' + datum.value"),
                 title=title)


def tick_layers(y_ticks):
    xt = alt.Chart(pd.DataFrame({"year": X_TICKS})).mark_rule(
        color=AX, strokeWidth=1.3).encode(
        x="year:Q", y=alt.value(H), y2=alt.value(H - TICK_LEN))
    yt = alt.Chart(pd.DataFrame({"value": y_ticks})).mark_rule(
        color=AX, strokeWidth=1.3).encode(
        y="value:Q", x=alt.value(0), x2=alt.value(TICK_LEN))
    return [xt, yt]


def letter_layer(t):
    return alt.Chart(pd.DataFrame({"t": [t]})).mark_text(
        font=FONT, fontSize=28, fontWeight="bold", align="left",
        baseline="alphabetic", color="black").encode(
        text="t:N", x=alt.value(15), y=alt.value(32))


def panel_title(text, offset):
    return alt.TitleParams(text, font=FONT, fontSize=27, fontWeight="bold",
                           color="black", anchor="middle", frame="group", offset=offset)


def top_panel(members, mean, title, letter, ytitle):
    rows = []
    for i, s in enumerate(members):
        for yr, v in zip(YEARS, s):
            rows.append({"year": yr, "value": v, "member": f"m{i}"})
    dfm = pd.DataFrame(rows)
    names = [f"m{i}" for i in range(len(members))]
    colors = [MATLAB_COLORS[i % len(MATLAB_COLORS)] for i in range(len(members))]
    lines = alt.Chart(dfm).mark_line(strokeWidth=1.8, clip=True).encode(
        x=x_enc(),
        y=y_enc([-2.5, 2.5], TOP_Y_TICKS, ytitle),
        color=alt.Color("member:N", scale=alt.Scale(domain=names, range=colors), legend=None))
    mean_line = alt.Chart(pd.DataFrame({"year": YEARS, "value": mean})).mark_line(
        color="black", strokeWidth=1.6, clip=True).encode(x="year:Q", y="value:Q")
    return alt.layer(lines, mean_line, *tick_layers(TOP_Y_TICKS), letter_layer(letter)).properties(
        width=W, height=H, title=panel_title(title, -2))


def bottom_panel(fp, blue, trend, domain, ticks, title, letter, ytitle, show_legend):
    if show_legend:
        legend = alt.Legend(orient="none", legendX=6, legendY=48, title=None,
                            labelFont=FONT, labelFontSize=24, labelColor="black",
                            symbolType="M-5,0H5", symbolSize=144, symbolStrokeWidth=2.7,
                            symbolOffset=31, labelOffset=22, padding=4, rowPadding=3,
                            strokeColor=AX, fillColor="white", labelLimit=400)
    else:
        legend = None
    color = alt.Color("series:N",
                      scale=alt.Scale(domain=SERIES_NAMES, range=SERIES_COLORS),
                      legend=legend)
    black = alt.Chart(pd.DataFrame({"year": YEARS, "value": fp, "series": SERIES_NAMES[0]})).mark_line(
        strokeWidth=2.7, clip=True).encode(x=x_enc(), y=y_enc(domain, ticks, ytitle), color=color)
    bl = alt.Chart(pd.DataFrame({"year": YEARS, "value": blue, "series": SERIES_NAMES[1]})).mark_line(
        strokeWidth=2.7, clip=True).encode(x="year:Q", y="value:Q", color=alt.Color("series:N"))
    red = alt.Chart(pd.DataFrame({"year": TREND_YEARS, "value": trend})).mark_line(
        color="#FF0000", strokeWidth=4.5, clip=True).encode(x="year:Q", y="value:Q")
    return alt.layer(black, bl, red, *tick_layers(ticks), letter_layer(letter)).properties(
        width=W, height=H, title=panel_title(title, 10))


a = top_panel(A_MEMBERS, C_FP, "QRA fingerprint (all-forcing)", "a.", YTITLE)
b = top_panel(B_MEMBERS, D_FP, "QRA fingerprint (anthro-only)", "b.", None)
c = bottom_panel(C_FP, C_BLUE, C_TREND, [-0.35, 0.35], C_Y_TICKS,
                 "QRA fingerprint (all-forcing)", "c.", YTITLE, True)
d = bottom_panel(D_FP, D_BLUE, D_TREND, [-0.5, 0.55], D_Y_TICKS,
                 "QRA fingerprint (anthro-only)", "d.", None, False)

chart = alt.concat(
    a, b, c, d, columns=2,
    spacing=alt.RowColnumber(row=108, column=80), bounds="flush",
).resolve_scale(color="independent").resolve_legend(color="independent").properties(
    padding={"left": 5, "top": 2, "right": 4, "bottom": 2},
    background="white",
).configure_view(stroke=None).configure_axis(
    domainColor=AX, domainWidth=1.3, ticks=False, tickSize=0, grid=False,
    labelFont=FONT, labelFontSize=24, labelColor=AX, labelPadding=9,
    labelFlush=False, labelOverlap=False,
    titleFont=FONT, titleFontSize=27, titleFontWeight="normal", titleColor=AX,
).configure_axisX(titlePadding=6).configure_axisY(titlePadding=11)

chart.save("out.html", embed_options={"renderer": "svg", "actions": False})
